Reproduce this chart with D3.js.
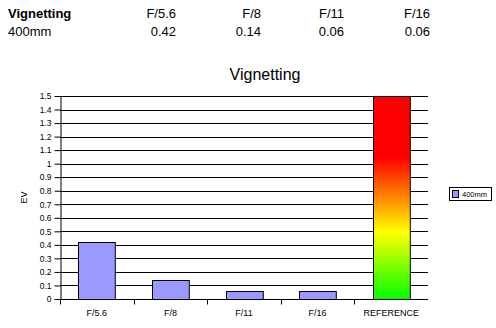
<!DOCTYPE html>
<html><head><meta charset="utf-8">
<script src="https://cdn.jsdelivr.net/npm/d3@7"></script>
<style>body{margin:0;background:#fff}svg{display:block;font-family:"Liberation Sans",Arial,sans-serif}</style>
</head><body>
<svg id="c" width="496" height="328"></svg>
<script>
const categories = ["F/5.6", "F/8", "F/11", "F/16"];
const seriesName = "400mm";
const values = [0.42, 0.14, 0.06, 0.06];
const referenceLabel = "REFERENCE";
const referenceValue = 1.5;
const yTicks = [0,0.1,0.2,0.3,0.4,0.5,0.6,0.7,0.8,0.9,1,1.1,1.2,1.3,1.4,1.5];

const svg = d3.select("#c");
const W = 496, H = 328;
const m = {left: 60, right: 68, top: 96, bottom: 29};
const x = d3.scaleBand().domain([...categories, referenceLabel]).range([m.left, W - m.right]).paddingInner(0.5).paddingOuter(0.25);
const y = d3.scaleLinear().domain([0, 1.5]).range([H - m.bottom, m.top]);

// header table
const colX = [176, 261, 344, 430];
const hdr = svg.append("g").attr("font-size", 13);
hdr.append("text").attr("x", 8).attr("y", 18).attr("font-weight", "bold").text("Vignetting");
hdr.append("text").attr("x", 8).attr("y", 36).text(seriesName);
categories.forEach((c, i) => {
  hdr.append("text").attr("x", colX[i]).attr("y", 18).attr("text-anchor", "end").text(c);
  hdr.append("text").attr("x", colX[i]).attr("y", 36).attr("text-anchor", "end").text(values[i].toFixed(2));
});

// title
svg.append("text").attr("x", 265).attr("y", 80).attr("text-anchor", "middle").attr("font-size", 16).text("Vignetting");

// gradient
const defs = svg.append("defs");
const lg = defs.append("linearGradient").attr("id", "ref").attr("x1", 0).attr("y1", 0).attr("x2", 0).attr("y2", 1);
[[0,"#ff0000"],[0.3,"#ff0000"],[0.67,"#ffff00"],[1,"#00ff00"]].forEach(([o,c]) => lg.append("stop").attr("offset", o).attr("stop-color", c));

// grid
svg.append("g").selectAll("line").data(yTicks.filter(d => d > 0)).join("line")
  .attr("x1", m.left).attr("x2", W - m.right)
  .attr("y1", d => Math.round(y(d)) + 0.5).attr("y2", d => Math.round(y(d)) + 0.5)
  .attr("stroke", "#000").attr("stroke-width", 1);

// bars
svg.append("g").selectAll("rect").data(values).join("rect")
  .attr("x", (d, i) => Math.round(x(categories[i])) + 0.5)
  .attr("width", x.bandwidth())
  .attr("y", d => Math.round(y(d)) + 0.5)
  .attr("height", d => y(0) - Math.round(y(d)))
  .attr("fill", "#9999ff").attr("stroke", "#000");
svg.append("rect")
  .attr("x", Math.round(x(referenceLabel)) + 0.5).attr("width", x.bandwidth())
  .attr("y", Math.round(y(referenceValue)) + 0.5).attr("height", y(0) - Math.round(y(referenceValue)))
  .attr("fill", "url(#ref)").attr("stroke", "#000");

// y axis
const ya = svg.append("g").attr("transform", `translate(${m.left + 0.5},0)`)
  .call(d3.axisLeft(y).tickValues(yTicks).tickFormat(d3.format("")).tickSize(6).tickSizeOuter(0));
ya.selectAll("text").attr("font-size", 8.5).attr("font-family", "Liberation Sans, Arial").attr("fill", "#000").attr("x", -9);
ya.selectAll("line,path").attr("stroke", "#000");

// x axis
const xa = svg.append("g").attr("transform", `translate(0,${Math.round(y(0)) + 0.5})`)
  .call(d3.axisBottom(x).tickSize(0).tickSizeOuter(0));
xa.select("path").attr("stroke", "#000").attr("d", `M${m.left},0H${W - m.right}`);
xa.selectAll("text").attr("font-size", 9).attr("font-family", "Liberation Sans, Arial").attr("fill", "#000").attr("dy", "0.71em").attr("y", 10);
const step = x.step();
const bounds = d3.range(0, 6).map(i => m.left + i * step);
xa.append("g").selectAll("line").data(bounds.slice(0, 5)).join("line")
  .attr("x1", d => Math.round(d) + 0.5).attr("x2", d => Math.round(d) + 0.5)
  .attr("y1", 0).attr("y2", 5).attr("stroke", "#000");

// y label
svg.append("text").attr("transform", `translate(27,${(y(0)+y(1.5))/2}) rotate(-90)`)
  .attr("text-anchor", "middle").attr("font-size", 9).text("EV");

// legend
const lgd = svg.append("g");
lgd.append("rect").attr("x", 449.5).attr("y", 187.5).attr("width", 42).attr("height", 13).attr("fill", "#fff").attr("stroke", "#000");
lgd.append("rect").attr("x", 452.5).attr("y", 190.5).attr("width", 6).attr("height", 7).attr("fill", "#9999ff").attr("stroke", "#000");
lgd.append("text").attr("x", 462).attr("y", 197).attr("font-size", 7.5).text(seriesName);
</script>
</body></html>
